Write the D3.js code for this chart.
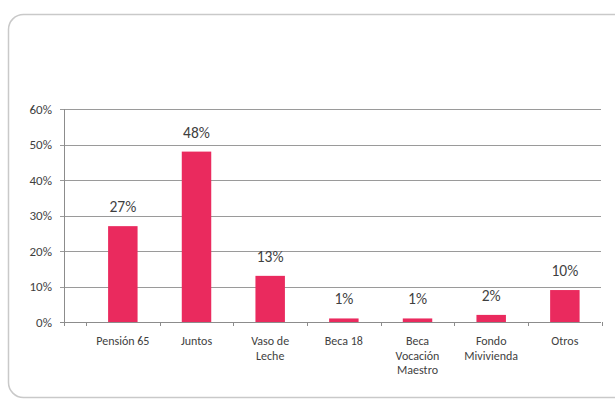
<!DOCTYPE html>
<html><head><meta charset="utf-8">
<script src="https://cdn.jsdelivr.net/npm/d3@7"></script>
<style>body{margin:0;background:#fff}svg{display:block}text{font-family:Carlito,Lato,"Open Sans",sans-serif;fill:#3f3f3f}</style>
</head><body><svg id="c" width="615" height="401"></svg>
<script>
const categories = [["Pensión 65"],["Juntos"],["Vaso de","Leche"],["Beca 18"],["Beca","Vocación","Maestro"],["Fondo","Mivivienda"],["Otros"]];
const values = [27, 48, 13, 1, 1, 2, 9];
const valueLabels = ["27%","48%","13%","1%","1%","2%","10%"];
const yTicks = [0,10,20,30,40,50,60];

const svg = d3.select("#c");
svg.append("rect").attr("x",8.5).attr("y",14.5).attr("width",620).attr("height",383)
  .attr("rx",15).attr("fill","#fff").attr("stroke","#c9c9c9").attr("stroke-width",1.5);

const y = d3.scaleLinear().domain([0,60]).range([322,109]);
const x = d3.scaleBand().domain(d3.range(categories.length)).range([86,601.7]).paddingInner(0.6).paddingOuter(0.3);
const xEdge = d3.scaleLinear().domain([0,7]).range([86,601.7]);

svg.append("g").selectAll("line").data(yTicks).join("line")
  .attr("x1",60).attr("x2",601).attr("y1",d=>Math.round(y(d))+0.5).attr("y2",d=>Math.round(y(d))+0.5)
  .attr("stroke",d=>d===0?"#8c8c8c":"#9a9a9a").attr("stroke-width",1);
svg.append("line").attr("x1",64.5).attr("x2",64.5).attr("y1",109).attr("y2",326).attr("stroke","#8c8c8c");
svg.append("g").selectAll("line").data(d3.range(8)).join("line")
  .attr("x1",d=>Math.round(xEdge(d))+0.5).attr("x2",d=>Math.round(xEdge(d))+0.5)
  .attr("y1",322).attr("y2",326).attr("stroke","#8c8c8c");
svg.append("g").selectAll("text").data(yTicks).join("text")
  .attr("x",52).attr("y",d=>y(d)+4.5).attr("text-anchor","end").attr("font-size",13).text(d=>d+"%");
svg.append("g").selectAll("rect").data(values).join("rect")
  .attr("x",(d,i)=>x(i)).attr("width",x.bandwidth()).attr("y",d=>y(d)).attr("height",d=>y(0)-y(d))
  .attr("fill","#EA2A5E");
svg.append("g").selectAll("text").data(values).join("text")
  .attr("x",(d,i)=>x(i)+x.bandwidth()/2).attr("y",d=>y(d)-14).attr("text-anchor","middle")
  .attr("font-size",15.5).text((d,i)=>valueLabels[i]);
const cg = svg.append("g").selectAll("g").data(categories).join("g");
cg.selectAll("text").data((d,i)=>d.map((t,j)=>({t,j,i}))).join("text")
  .attr("x",d=>x(d.i)+x.bandwidth()/2).attr("y",d=>345+d.j*14.5)
  .attr("text-anchor","middle").attr("font-size",12).text(d=>d.t);
</script></body></html>
